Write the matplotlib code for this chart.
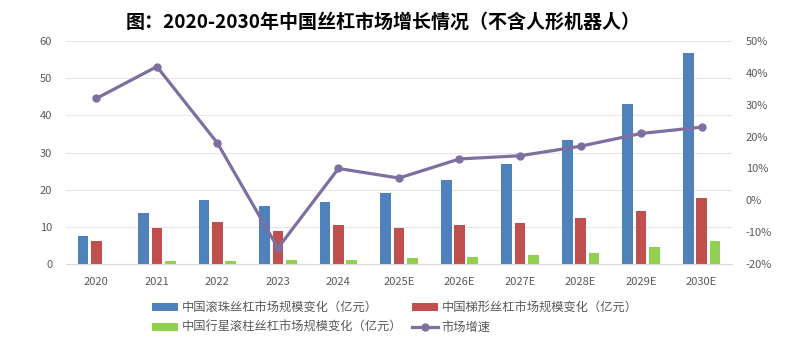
import numpy as np
import matplotlib
matplotlib.use("Agg")
import matplotlib.pyplot as plt
from matplotlib.ticker import FuncFormatter

plt.rcParams['font.family'] = ['Noto Sans CJK SC', 'DejaVu Sans']

years = ['2020', '2021', '2022', '2023', '2024', '2025E', '2026E',
         '2027E', '2028E', '2029E', '2030E']
ball_screw = [7.6, 13.7, 17.2, 15.5, 16.6, 19.1, 22.5, 27.0, 33.5, 43.0, 56.8]
trapezoid_screw = [6.1, 9.7, 11.3, 9.0, 10.6, 9.8, 10.6, 11.1, 12.4, 14.4, 17.8]
planetary_screw = [0.1, 0.7, 0.9, 1.0, 1.1, 1.5, 1.8, 2.5, 3.0, 4.5, 6.1]
growth = [32, 42, 18, -15, 10, 7, 13, 14, 17, 21, 23]

labels = ['中国滚珠丝杠市场规模变化（亿元）', '中国梯形丝杠市场规模变化（亿元）',
          '中国行星滚柱丝杠市场规模变化（亿元）', '市场增速']

fig = plt.figure(figsize=(8.06, 3.4), dpi=100)
ax = fig.add_axes([0.082, 0.2235, 0.826, 0.6555])
ax2 = ax.twinx()

x = np.arange(len(years))
w = 0.176
step = 0.22
gray = '#595959'

b1 = ax.bar(x - step, ball_screw, w, color='#4F81BD', zorder=2)
b2 = ax.bar(x, trapezoid_screw, w, color='#C0504D', zorder=2)
b3 = ax.bar(x + step, planetary_screw, w, color='#92D050', zorder=2)

ax.set_ylim(0, 60)
ax.set_yticks(range(0, 61, 10))
ax.set_xlim(-0.5, len(years) - 0.5)
ax.set_xticks(x)
ax.set_xticklabels(years)
ax.grid(axis='y', color='#E6E6E6', linewidth=0.8, zorder=0)
ax.set_axisbelow(True)

ln, = ax2.plot(x, growth, color='#7E6FA0', linewidth=2.3, marker='o',
               markersize=5, zorder=3)
ax2.set_ylim(-20, 50)
ax2.set_yticks(range(-20, 51, 10))
ax2.yaxis.set_major_formatter(FuncFormatter(lambda v, p: f'{int(v)}%'))

for a in (ax, ax2):
    for s in a.spines.values():
        s.set_visible(False)
    a.tick_params(length=0, labelsize=8, labelcolor=gray)
ax.spines['bottom'].set_visible(True)
ax.spines['bottom'].set_color('#D9D9D9')
ax.tick_params(axis='x', pad=9)
ax.tick_params(axis='y', pad=10)
ax2.tick_params(axis='y', pad=10)

fig.text(0.475, 0.935, '图：2020-2030年中国丝杠市场增长情况（不含人形机器人）',
         ha='center', va='center', fontsize=13.7, fontweight='bold')

# ncol=2 fills column-wise: blue/green in first column, red/line in second
fig.legend([b1, b3, b2, ln], [labels[0], labels[2], labels[1], labels[3]],
           loc='lower center', ncol=2, bbox_to_anchor=(0.49, -0.015),
           frameon=False, fontsize=8.8, labelcolor=gray, handlelength=2.1,
           handleheight=0.6, columnspacing=0.8, labelspacing=0.55,
           handletextpad=0.3)

fig.savefig('out.png', dpi=100)
